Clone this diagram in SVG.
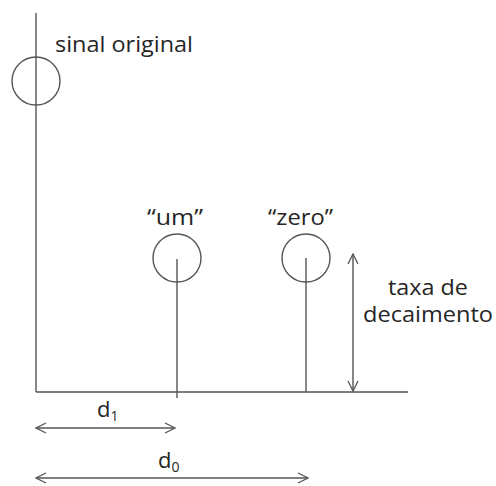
<svg xmlns="http://www.w3.org/2000/svg" width="496" height="486" viewBox="0 0 496 486">
<defs>
<style>
.ln{stroke:#555;stroke-width:1.4;fill:none}
.c{stroke:#555;stroke-width:1.4;fill:none}
text{font-family:"Open Sans","Liberation Sans",sans-serif;font-size:22px;fill:#262626}
.sub{font-size:14px}
</style>
<marker id="ah" viewBox="0 0 12 12" refX="11" refY="6" markerWidth="12" markerHeight="12" markerUnits="userSpaceOnUse" orient="auto-start-reverse">
<path d="M1,1 L11,6 L1,11" fill="none" stroke="#555" stroke-width="1.3"/>
</marker>
</defs>
<rect width="496" height="486" fill="#fff"/>
<g id="connectors">
<line class="ln" x1="36" y1="13" x2="36" y2="392"/>
<line class="ln" x1="36" y1="392" x2="408" y2="392"/>
<line class="ln" x1="177" y1="259" x2="177" y2="398"/>
<line class="ln" x1="306" y1="258" x2="306" y2="392"/>
<line class="ln" x1="353" y1="254" x2="353" y2="391" marker-start="url(#ah)" marker-end="url(#ah)"/>
<line class="ln" x1="36" y1="428" x2="175" y2="428" marker-start="url(#ah)" marker-end="url(#ah)"/>
<line class="ln" x1="36" y1="478" x2="308" y2="478" marker-start="url(#ah)" marker-end="url(#ah)"/>
</g>
<g id="original">
<circle class="c" cx="36" cy="81" r="24"/>
<text x="55" y="52" textLength="138" lengthAdjust="spacingAndGlyphs">sinal original</text>
</g>
<g id="um">
<circle class="c" cx="177" cy="258" r="24"/>
<text x="147" y="225" textLength="56" lengthAdjust="spacingAndGlyphs">“um”</text>
</g>
<g id="zero">
<circle class="c" cx="306" cy="258" r="24"/>
<text x="268" y="225" textLength="65" lengthAdjust="spacingAndGlyphs">“zero”</text>
</g>
<g id="taxa">
<text x="388" y="295" textLength="80" lengthAdjust="spacingAndGlyphs">taxa de</text>
<text x="363" y="322" textLength="130" lengthAdjust="spacingAndGlyphs">decaimento</text>
</g>
<g id="d1">
<text x="97" y="417">d<tspan class="sub" dy="4">1</tspan></text>
</g>
<g id="d0">
<text x="158" y="468">d<tspan class="sub" dy="4">0</tspan></text>
</g>
</svg>
